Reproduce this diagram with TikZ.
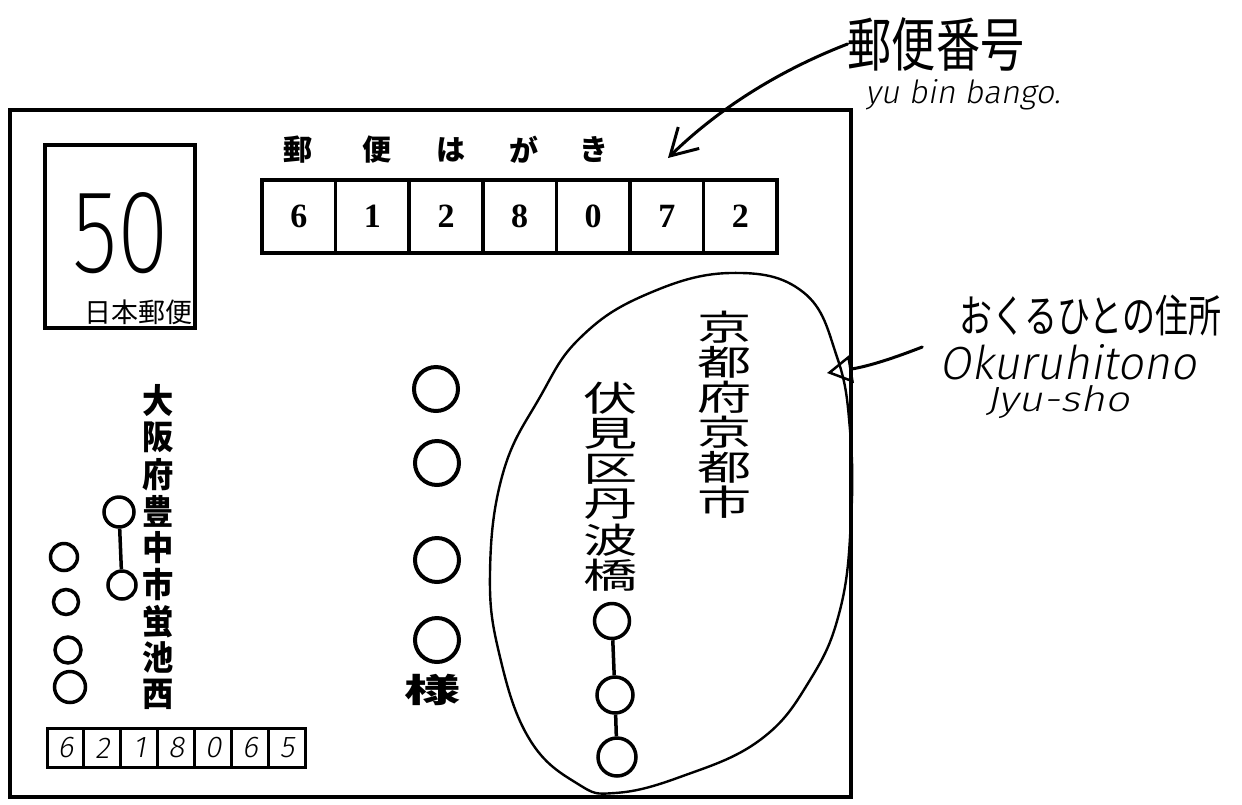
\documentclass[tikz,border=0pt]{standalone}
\usepackage{fontspec}
\usepackage{graphicx}
\usetikzlibrary{arrows.meta}
\newfontfamily\cjk{Noto Sans CJK JP}
\newfontfamily\hand{Fira Sans Light}
\newfontfamily\thinhand{Fira Sans ExtraLight}
\newfontfamily\handsl{Fira Sans Light}[FakeSlant=0.18]
\newfontfamily\zipfont{Liberation Serif}
\newcommand\fs[1]{\fontsize{#1}{#1}\selectfont}
\newcommand\widechar[2]{\scalebox{#1}[1]{#2}}
\begin{document}
\begin{tikzpicture}[x=1pt,y=-1pt,
  frameline/.style={line width=4pt},
  stampbox/.style={draw, line width=4pt, minimum width=150pt, minimum height=183pt, inner sep=0pt},
  zipcell/.style={draw, line width=3.5pt, minimum width=73.6pt, minimum height=73pt, inner sep=0pt, font=\zipfont\fs{34}\bfseries},
  mycell/.style={draw, line width=3pt, minimum width=36.9pt, minimum height=39pt, inner sep=0pt, font=\handsl\fs{30}},
  titlech/.style={font=\cjk\fs{29}\bfseries, inner sep=0pt},
  rightch/.style={font=\cjk\fs{35}, inner sep=0pt},
  leftch/.style={font=\cjk\fs{34}\bfseries, inner sep=0pt},
  ring/.style={draw, circle, line width=3.5pt, inner sep=0pt},
  bigring/.style={draw, circle, line width=4pt, inner sep=0pt, minimum size=44pt},
  chainline/.style={line width=3.5pt},
  handline/.style={line width=3pt, line cap=round, line join=round},
  blob/.style={line width=2.4pt}
]
\useasboundingbox (0,0) rectangle (1242,804);
\fill[white] (0,0) rectangle (1242,804);

% frame of the postcard
\draw[frameline] (10,110) rectangle (851,797);

% stamp
\node[stampbox] (stamp) at (120,236.5) {};
\node[inner sep=0pt] (fifty) at (121,233) {\thinhand\resizebox{97pt}{80pt}{50}};
\node[inner sep=0pt, font=\cjk\fs{27}] (jp) at (138,312) {日本郵便};

% title
\node[titlech] (t1) at (298,150) {郵};
\node[titlech] (t2) at (377,150) {便};
\node[titlech] (t3) at (451,150) {は};
\node[titlech] (t4) at (524,150) {が};
\node[titlech] (t5) at (594,150) {き};

% postal code boxes
\foreach \d [count=\i] in {6,1,2,8,0,7,2}
  \node[zipcell] (z\i) at ({262+73.6*(\i-0.5)},216.5) {\d};

% top annotation
\node[inner sep=0pt, font=\cjk\fs{45}] (lblzip) at (936,44) {\scalebox{0.98}[1.3]{郵便番号}};
\node[inner sep=0pt, font=\handsl] (lblyubin) at (963,95) {\resizebox{195pt}{24pt}{yu bin bango.}};
\coordinate (ziptip) at (668,158);
\draw[handline, -{Straight Barb[length=26pt,width=30pt,line width=3pt]}]
  (lblzip.west) .. controls (775,72) and (715,112) .. (ziptip);

% addressee blob
\draw[blob] plot[smooth cycle, tension=0.7] coordinates {
  (730,273) (803,292) (837,357) (850,430) (851,520) (840,610) (810,680)
  (760,740) (680,777) (615,793) (578,784) (530,740) (500,657) (490,573)
  (503,473) (540,397) (580,338) (645,295)};

% addressee address
\foreach \c [count=\i] in {京,都,府,京,都,市}
  \node[rightch] (ka\i) at (725,{327+(\i-1)*35}) {\widechar{1.55}{\c}};
\foreach \c [count=\i] in {伏,見,区,丹,波,橋}
  \node[rightch] (kb\i) at (611,{398+(\i-1)*35.5}) {\widechar{1.55}{\c}};
\node[ring, minimum size=35pt] (r1) at (612,621) {};
\node[ring, minimum size=36pt] (r2) at (615,695) {};
\node[ring, minimum size=38pt] (r3) at (617,757) {};
\draw[chainline] (r1) -- (r2);
\draw[chainline] (r2) -- (r3);

% addressee name
\node[bigring] (m1) at (436,389) {};
\node[bigring] (m2) at (437,463) {};
\node[bigring] (m3) at (437,560) {};
\node[bigring] (m4) at (437,640) {};
\node[inner sep=0pt, font=\cjk\fs{33}\bfseries] (sama) at (433,690) {\widechar{1.7}{様}};

% right annotation
\node[inner sep=0pt, font=\cjk\fs{33}] (lbladdr) at (1090,316) {\scalebox{1}[1.35]{おくるひとの住所}};
\node[inner sep=0pt, font=\handsl] (lbloku) at (1068,362) {\resizebox{257pt}{35pt}{Okuruhitono}};
\node[inner sep=0pt, font=\handsl] (lbljyu) at (1058,402) {\resizebox{143pt}{26pt}{Jyu-sho}};
\coordinate (addrtip) at (827,373);
\draw[handline, -{Triangle[open,length=25pt,width=28pt,line width=2.5pt]}]
  ([shift={(-17,-15)}]lbloku.west) to[bend left=6] (addrtip);

% sender address
\foreach \c [count=\i] in {大,阪,府,豊,中,市,蛍,池,西}
  \node[leftch] (sa\i) at (158,{401+(\i-1)*36.7}) {\widechar{0.92}{\c}};
\node[ring, minimum size=30pt] (l1) at (119,512) {};
\node[ring, minimum size=28pt] (l2) at (122,585) {};
\draw[chainline] (l1) -- (l2);

% sender name
\node[ring, minimum size=27pt] (f1) at (64,557) {};
\node[ring, minimum size=25pt] (f2) at (66,602) {};
\node[ring, minimum size=26pt] (f3) at (68,650) {};
\node[ring, minimum size=31pt] (f4) at (70,687) {};

% sender postal code
\foreach \d [count=\i] in {6,2,1,8,0,6,5}
  \node[mycell] (s\i) at ({47+36.9*(\i-0.5)},748) {\d};
\end{tikzpicture}
\end{document}
